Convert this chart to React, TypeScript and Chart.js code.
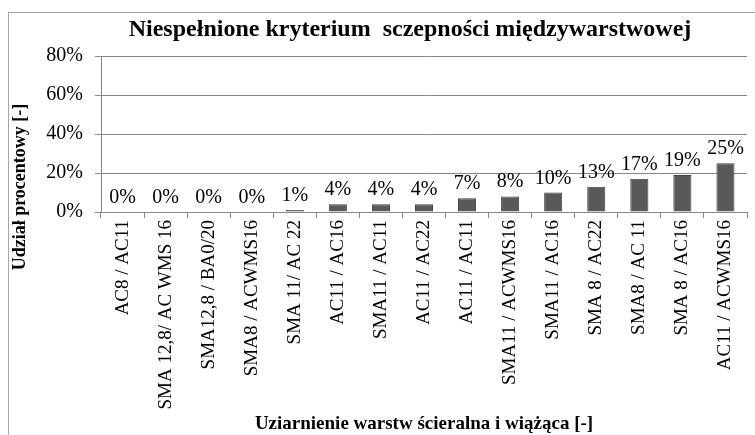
import React, { useEffect, useRef } from "react";
import { Chart, registerables } from "chart.js";

Chart.register(...registerables);

const categories = [
  "AC8 / AC11",
  "SMA 12,8/ AC WMS 16",
  "SMA12,8 / BA0/20",
  "SMA8 / ACWMS16",
  "SMA 11/ AC 22",
  "AC11 / AC16",
  "SMA11 / AC11",
  "AC11 / AC22",
  "AC11 / AC11",
  "SMA11 / ACWMS16",
  "SMA11 / AC16",
  "SMA 8 / AC22",
  "SMA8 / AC 11",
  "SMA 8 / AC16",
  "AC11 / ACWMS16",
];
const values = [0, 0, 0, 0, 1, 4, 4, 4, 7, 8, 10, 13, 17, 19, 25];
const yTicks = [0, 20, 40, 60, 80];

const titleText = "Niespełnione kryterium  sczepności międzywarstwowej";
const yTitle = "Udział procentowy [-]";
const xTitle = "Uziarnienie warstw ścieralna i wiążąca [-]";

const FONT = "'Liberation Serif', 'Times New Roman', serif";

const decorPlugin = {
  id: "decor",
  beforeDraw(chart: any) {
    const ctx = chart.ctx;
    ctx.save();
    ctx.fillStyle = "#ffffff";
    ctx.fillRect(0, 0, chart.width, chart.height);
    ctx.strokeStyle = "#a6a6a6";
    ctx.lineWidth = 1;
    ctx.strokeRect(8.5, 12.5, 800, 500);
    ctx.restore();
  },
  afterDraw(chart: any) {
    const ctx = chart.ctx;
    ctx.save();
    ctx.fillStyle = "#000";
    ctx.textAlign = "center";
    ctx.textBaseline = "middle";
    ctx.font = `bold 24px ${FONT}`;
    ctx.fillText(titleText, 410, 30);
    ctx.font = `bold 19px ${FONT}`;
    ctx.fillText(xTitle, 424, 424);
    ctx.font = `bold 18px ${FONT}`;
    ctx.translate(20, 187);
    ctx.rotate(-Math.PI / 2);
    ctx.fillText(yTitle, 0, 0);
    ctx.restore();
  },
  afterDatasetsDraw(chart: any) {
    const ctx = chart.ctx;
    const meta = chart.getDatasetMeta(0);
    ctx.save();
    ctx.fillStyle = "#000";
    ctx.font = `20px ${FONT}`;
    ctx.textAlign = "center";
    ctx.textBaseline = "alphabetic";
    meta.data.forEach((bar: any, i: number) => {
      ctx.fillText(values[i] + "%", bar.x, bar.y - 9);
    });
    ctx.restore();
  },
};

export default function App() {
  const ref = useRef<HTMLCanvasElement | null>(null);
  useEffect(() => {
    if (!ref.current) return;
    const chart = new Chart(ref.current, {
      type: "bar",
      data: {
        labels: categories,
        datasets: [
          {
            data: values,
            backgroundColor: "#595959",
            borderColor: "#404040",
            borderWidth: 1,
            barPercentage: 0.42,
            categoryPercentage: 1,
          },
        ],
      },
      options: {
        animation: false,
        responsive: false,
        maintainAspectRatio: false,
        layout: { padding: { left: 0, top: 56, right: 8, bottom: 0 } },
        plugins: {
          legend: { display: false },
          title: { display: false },
          tooltip: { enabled: false },
        },
        scales: {
          x: {
            afterFit: (s: any) => {
              s.height = 223;
            },
            grid: {
              offset: true,
              drawOnChartArea: false,
              drawTicks: true,
              tickLength: 6,
              color: "#878787",
            },
            border: { color: "#878787", width: 1 },
            ticks: {
              minRotation: 90,
              maxRotation: 90,
              autoSkip: false,
              padding: 2,
              color: "#000",
              font: { family: FONT, size: 19 },
            },
          },
          y: {
            min: 0,
            max: 80,
            afterFit: (s: any) => {
              s.width = 101;
            },
            afterBuildTicks: (s: any) => {
              s.ticks = yTicks.map((v) => ({ value: v }));
            },
            grid: {
              color: "#878787",
              tickLength: 6,
            },
            border: { color: "#878787", width: 1 },
            ticks: {
              padding: 12,
              color: "#000",
              font: { family: FONT, size: 20 },
              callback: (v: any) => v + "%",
            },
          },
        },
      },
      plugins: [decorPlugin],
    });
    return () => chart.destroy();
  }, []);
  return (
    <div style={{ position: "absolute", left: 0, top: 0, width: 755, height: 435 }}>
      <canvas ref={ref} width={755} height={435} style={{ width: 755, height: 435 }} />
    </div>
  );
}
